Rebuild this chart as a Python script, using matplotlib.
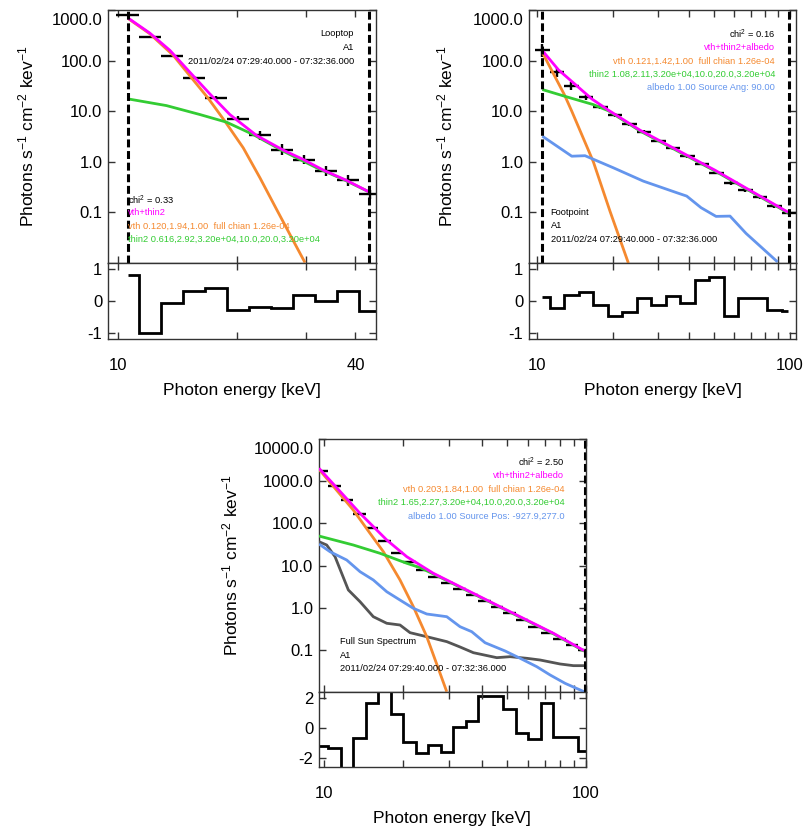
import matplotlib
matplotlib.use("Agg")
import matplotlib.pyplot as plt
import numpy as np
from matplotlib.ticker import FixedLocator, FixedFormatter, NullLocator

plt.rcParams['font.family'] = ['Liberation Sans', 'DejaVu Sans']
plt.rcParams['mathtext.fontset'] = 'custom'
plt.rcParams['mathtext.rm'] = 'Liberation Sans'
plt.rcParams['mathtext.it'] = 'Liberation Sans:italic'
plt.rcParams['mathtext.bf'] = 'Liberation Sans:bold'

MAGENTA = '#ff00ff'
ORANGE = '#f5892f'
GREEN = '#33cc33'
BLUE = '#6495ed'
GREY = '#555555'

# ---------------- Looptop ----------------
lt_edges = [9.90, 11.28, 12.85, 14.60, 16.57, 18.90, 21.50, 24.40, 27.80, 31.50, 35.86, 40.80, 46.30]
lt_flux = [785, 288, 122, 46.1, 18.3, 7.16, 3.31, 1.75, 1.11, 0.655, 0.428, 0.226]
lt_err = [0.01, 0.01, 0.02, 0.03, 0.04, 0.05, 0.09, 0.10, 0.09, 0.10, 0.10, 0.09]   # dex
lt_resid = [0.81, -1.0, -0.05, 0.33, 0.40, -0.27, -0.20, -0.23, 0.20, -0.01, 0.33, -0.30]
lt_resid_span = (10.6, 46.3)
lt_fit = [10.6, 43.4]
lt_tot_e = [10.60, 12.03, 13.53, 15.21, 17.09, 19.21, 22.46, 26.25, 29.50, 33.16, 38.0, 43.4]
lt_tot_f = [695, 351, 160, 58.9, 22.0, 8.59, 3.31, 1.70, 1.11, 0.685, 0.428, 0.252]
lt_vth_e = [10.60, 12.03, 13.79, 15.21, 16.93, 18.66, 20.77, 22.90, 25.24, 27.56, 29.79]
lt_vth_f = [680, 340, 128, 50, 18.0, 6.35, 1.89, 0.483, 0.1146, 0.0316, 0.0102]
lt_thin_e = [10.60, 13.27, 16.12, 18.84, 22.01, 26.25, 31.90, 37.28, 43.4]
lt_thin_f = [17.5, 12.9, 8.6, 6.07, 3.46, 1.62, 0.76, 0.448, 0.252]

# ---------------- Footpoint ----------------
fp_edges = [9.86, 11.25, 12.84, 14.65, 16.71, 19.07, 21.76, 24.82, 28.32, 32.31, 36.86,
            42.05, 47.97, 54.74, 62.46, 71.25, 81.30, 92.75, 105.8]
fp_flux = [160, 59, 31.5, 19, 12, 8.4, 5.5, 3.95, 2.6, 1.84, 1.28, 0.92, 0.61, 0.38,
           0.278, 0.20, 0.135, 0.097]
fp_err = [0.13, 0.09, 0.07, 0.05, 0.04, 0.035, 0.03, 0.03, 0.03, 0.03, 0.03, 0.03,
          0.03, 0.035, 0.035, 0.04, 0.04, 0.04]
fp_resid = [0.125, -0.23, 0.20, 0.27, -0.13, -0.47, -0.36, 0.11, -0.12, 0.16, -0.07,
            0.67, 0.75, -0.47, 0.10, 0.10, -0.28, -0.31]
fp_resid_span = (10.52, 98.4)
fp_fit = [10.52, 99.2]
fp_tot_e = [10.52, 12.17, 14.17, 16.49, 19.17, 25.6, 50.5, 98.2]
fp_tot_f = [158, 66, 34, 17.5, 10.5, 4.2, 0.684, 0.101]
fp_vth_e = [10.52, 12.85, 13.75, 16.73, 19.47, 23.0]
fp_vth_f = [145, 21.3, 10, 1.0, 0.105, 0.01]
fp_thin_e = [10.52, 13.0, 16.73, 19.17, 25.6, 50.5, 98.2]
fp_thin_f = [26.8, 19.5, 13.5, 10.2, 4.05, 0.66, 0.098]
fp_alb_e = [10.52, 13.75, 15.51, 20.06, 26.35, 35.71, 39.1, 44.53, 51.04, 57.96, 67.04, 89.3]
fp_alb_f = [3.21, 1.29, 1.32, 0.762, 0.415, 0.245, 0.210, 0.124, 0.0834, 0.0845, 0.0385, 0.0105]

# ---------------- Full Sun ----------------
fs_edges = [9.31, 10.39, 11.58, 12.94, 14.44, 16.13, 17.99, 20.10, 22.42, 25.04, 27.94,
            31.21, 34.81, 38.90, 43.38, 48.47, 54.06, 60.40, 67.37, 75.27, 83.95, 93.80, 104.7]
fs_flux = [1766, 776, 361, 165, 76.6, 38.3, 20.2, 11.9, 7.82, 5.42, 3.77, 2.77, 1.99,
           1.46, 1.05, 0.731, 0.507, 0.352, 0.253, 0.176, 0.129, 0.098]
fs_err = [0.015] * 22
fs_resid = [-1.19, -1.36, -2.7, -0.70, 1.65, 2.5, 0.95, -0.92, -1.69, -1.14, -1.63, 0.07,
            0.46, 2.09, 2.11, 1.27, -0.33, -0.75, 1.65, -0.59, -0.64, -1.52]
fs_resid_span = (9.31, 104.7)
fs_fit = [99.3]
fs_tot_e = [9.57, 13.73, 17.37, 20.71, 26.17, 33.10, 41.88, 56.14, 75.27, 98.6]
fs_tot_f = [2046, 174, 40.4, 16.2, 6.53, 3.14, 1.51, 0.607, 0.245, 0.0945]
fs_vth_e = [9.57, 12.94, 14.99, 16.86, 19.52, 21.95, 24.70, 29.45]
fs_vth_f = [1937, 208, 58.3, 21.3, 4.53, 1.05, 0.203, 0.01]
fs_thin_e = [9.57, 12.94, 16.37, 20.71, 23.28, 26.17, 33.10, 41.88, 56.14, 75.27, 98.6]
fs_thin_f = [50.2, 30.7, 19.5, 11.3, 8.9, 6.3, 3.05, 1.47, 0.59, 0.238, 0.092]
fs_alb_e = [9.57, 10.54, 12.21, 13.73, 15.43, 17.37, 19.52, 21.95, 24.70, 29.45, 33.10,
            36.69, 41.25, 49.20, 56.14, 65.03, 73.1, 83.44, 98.6]
fs_alb_f = [32.4, 21.3, 13.5, 7.13, 4.53, 2.38, 1.51, 0.96, 0.703, 0.607, 0.351, 0.267,
            0.146, 0.0929, 0.0623, 0.0393, 0.0250, 0.0158, 0.0100]
fs_bkg_e = [9.57, 10.24, 11.02, 12.39, 13.73, 15.43, 17.37, 19.52, 21.32, 24.70, 29.45,
            33.10, 37.22, 45.73, 51.42, 59.54, 66.95, 79.8, 89.76, 98.6]
fs_bkg_f = [36.8, 30.7, 16.2, 2.62, 1.38, 0.607, 0.423, 0.385, 0.253, 0.203, 0.155,
            0.1156, 0.0846, 0.0644, 0.068, 0.0622, 0.0567, 0.0456, 0.0416, 0.0416]

# tick values / labels
ticks_40 = [10, 20, 30, 40]
labels_40 = ['10', '', '', '40']
ticks_100 = [10, 20, 30, 40, 50, 60, 70, 80, 90, 100]
labels_100 = ['10', '', '', '', '', '', '', '', '', '100']
yt_1e3 = [0.1, 1, 10, 100, 1000]
yl_1e3 = ['0.1', '1.0', '10.0', '100.0', '1000.0']
yt_1e4 = [0.1, 1, 10, 100, 1000, 10000]
yl_1e4 = ['0.1', '1.0', '10.0', '100.0', '1000.0', '10000.0']

DATE = '2011/02/24 07:29:40.000 - 07:32:36.000'
TICKSIZE = 12

W, H = 811, 831
fig = plt.figure(figsize=(W / 100, H / 100), dpi=100)


def px_axes(left, top, right, bottom):
    return fig.add_axes([left / W, 1 - bottom / H, (right - left) / W, (bottom - top) / H])


def px_text(x, y, s, color='black', ha='left'):
    fig.text(x / W, 1 - y / H, s, color=color, ha=ha, va='center', fontsize=6.7)


def style(a):
    for s in a.spines.values():
        s.set_color('#333333')
        s.set_linewidth(1.0)
    a.tick_params(which='both', direction='in', top=True, right=True, length=5,
                  width=1, color='#333333', labelsize=TICKSIZE)


def panel(box, xlim, ylim, rlim, xt, xl, yt, yl, rt, edges, flux, err, resid, rspan,
          fit, models, ylabel_pad):
    left, top, right, mid, bottom = box
    ax = px_axes(left, top, right, mid)
    rx = px_axes(left, mid, right, bottom)
    for a in (ax, rx):
        style(a)
        a.set_xscale('log')
        a.set_xlim(*xlim)
        a.xaxis.set_major_locator(FixedLocator(xt))
        a.xaxis.set_minor_locator(NullLocator())
        a.xaxis.set_major_formatter(FixedFormatter(xl))
    ax.set_yscale('log')
    ax.set_ylim(*ylim)
    ax.yaxis.set_major_locator(FixedLocator(yt))
    ax.yaxis.set_minor_locator(NullLocator())
    # the top label is drawn a little below its tick, as in the original
    ax.yaxis.set_major_formatter(FixedFormatter(yl[:-1] + ['']))
    ax.annotate(yl[-1], xy=(0, 1), xycoords='axes fraction', xytext=(-5.6, -10.5),
                textcoords='offset pixels', ha='right', va='center', fontsize=TICKSIZE)
    ax.tick_params(axis='x', labelbottom=False)
    ax.tick_params(axis='y', pad=4)

    e = np.array(edges)
    f = np.array(flux)
    d = np.array(err)
    c = np.sqrt(e[:-1] * e[1:])
    ax.errorbar(c, f, xerr=[c - e[:-1], e[1:] - c],
                yerr=[f * (1 - 10 ** -d), f * (10 ** d - 1)],
                fmt='none', ecolor='black', elinewidth=1.7, capsize=0, zorder=2)
    for me, mf, col in models:
        ax.plot(me, mf, color=col, lw=2, zorder=3, solid_capstyle='butt')
    for xv in fit:
        ax.axvline(xv, color='black', lw=2.2, ls=(0, (2.6, 1.2)), zorder=4)

    ax.set_ylabel('Photons s$^{-1}$ cm$^{-2}$ kev$^{-1}$', fontsize=12.5,
                  labelpad=ylabel_pad)

    re = list(edges)
    re[0], re[-1] = rspan
    rx.stairs(resid, re, baseline=None, color='black', lw=2)
    rx.set_ylim(*rlim)
    rx.yaxis.set_major_locator(FixedLocator(rt))
    rx.yaxis.set_major_formatter(FixedFormatter([str(v) for v in rt]))
    rx.tick_params(axis='x', pad=14)
    rx.tick_params(axis='y', pad=4)
    rx.set_xlabel('Photon energy [keV]', fontsize=12.5, labelpad=7)
    return ax, rx


# Looptop
panel((108, 10, 376, 263, 339), (9.43, 45.1), (0.01, 1000), (-1.2, 1.2),
      ticks_40, labels_40, yt_1e3, yl_1e3, [-1, 0, 1],
      lt_edges, lt_flux, lt_err, lt_resid, lt_resid_span, lt_fit,
      [(lt_vth_e, lt_vth_f, ORANGE), (lt_thin_e, lt_thin_f, GREEN),
       (lt_tot_e, lt_tot_f, MAGENTA)], 18)
px_text(354, 34, 'Looptop', ha='right')
px_text(354, 47, 'A1', ha='right')
px_text(354, 61, DATE, ha='right')
px_text(128, 200, 'chi$^{2}$ = 0.33')
px_text(128, 212.5, 'vth+thin2', MAGENTA)
px_text(128, 226.5, 'vth 0.120,1.94,1.00  full chian 1.26e-04', ORANGE)
px_text(128, 239.5, 'thin2 0.616,2.92,3.20e+04,10.0,20.0,3.20e+04', GREEN)

# Footpoint
panel((529, 10, 796, 263, 339), (9.32, 105.6), (0.01, 1000), (-1.2, 1.2),
      ticks_100, labels_100, yt_1e3, yl_1e3, [-1, 0, 1],
      fp_edges, fp_flux, fp_err, fp_resid, fp_resid_span, fp_fit,
      [(fp_vth_e, fp_vth_f, ORANGE), (fp_thin_e, fp_thin_f, GREEN),
       (fp_alb_e, fp_alb_f, BLUE), (fp_tot_e, fp_tot_f, MAGENTA)], 19)
px_text(775, 34, 'chi$^{2}$ = 0.16', ha='right')
px_text(775, 47.3, 'vth+thin2+albedo', MAGENTA, ha='right')
px_text(775, 61, 'vth 0.121,1.42,1.00  full chian 1.26e-04', ORANGE, ha='right')
px_text(775, 74, 'thin2 1.08,2.11,3.20e+04,10.0,20.0,3.20e+04', GREEN, ha='right')
px_text(775, 87.3, 'albedo 1.00 Source Ang: 90.00', BLUE, ha='right')
px_text(550.7, 212.7, 'Footpoint')
px_text(550.7, 226, 'A1')
px_text(550.7, 239.3, DATE)

# Full Sun
panel((319, 439.3, 585.7, 691.7, 767), (9.57, 100), (0.01, 10000), (-2.6, 2.4),
      ticks_100, labels_100, yt_1e4, yl_1e4, [-2, 0, 2],
      fs_edges, fs_flux, fs_err, fs_resid, fs_resid_span, fs_fit,
      [(fs_bkg_e, fs_bkg_f, GREY), (fs_vth_e, fs_vth_f, ORANGE),
       (fs_thin_e, fs_thin_f, GREEN), (fs_alb_e, fs_alb_f, BLUE),
       (fs_tot_e, fs_tot_f, MAGENTA)], 16)
px_text(564.3, 462.3, 'chi$^{2}$ = 2.50', ha='right')
px_text(564.3, 475.7, 'vth+thin2+albedo', MAGENTA, ha='right')
px_text(564.3, 489.3, 'vth 0.203,1.84,1.00  full chian 1.26e-04', ORANGE, ha='right')
px_text(564.3, 502.7, 'thin2 1.65,2.27,3.20e+04,10.0,20.0,3.20e+04', GREEN, ha='right')
px_text(564.3, 516, 'albedo 1.00 Source Pos: -927.9,277.0', BLUE, ha='right')
px_text(340, 641.7, 'Full Sun Spectrum')
px_text(340, 655, 'A1')
px_text(340, 668.3, DATE)

fig.savefig('out.png', dpi=100)
